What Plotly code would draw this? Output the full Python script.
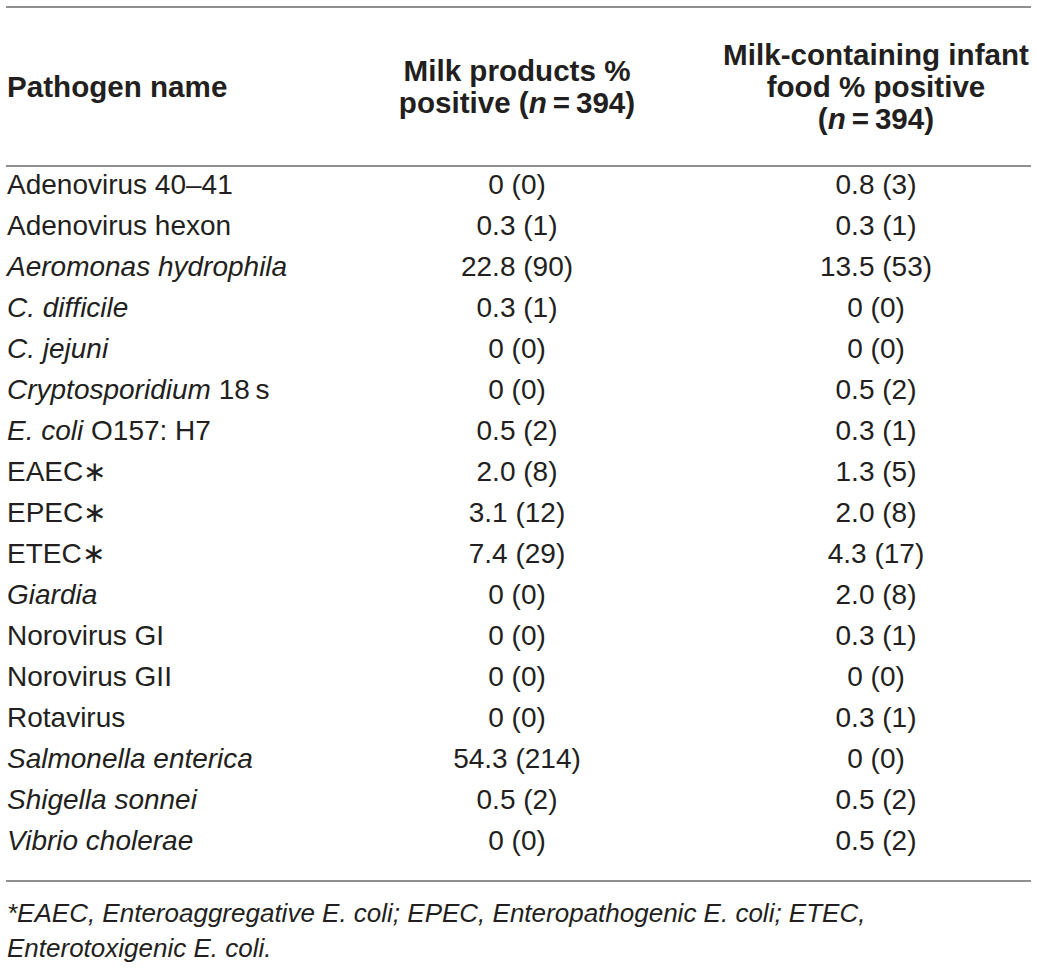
import plotly.graph_objects as go

# table data
pathogens = ["Adenovirus 40–41", "Adenovirus hexon", "<i>Aeromonas hydrophila</i>",
             "<i>C. difficile</i>", "<i>C. jejuni</i>", "<i>Cryptosporidium</i> 18\u2009s",
             "<i>E. coli</i> O157: H7", "EAEC∗", "EPEC∗", "ETEC∗", "<i>Giardia</i>",
             "Norovirus GI", "Norovirus GII", "Rotavirus", "<i>Salmonella enterica</i>",
             "<i>Shigella sonnei</i>", "<i>Vibrio cholerae</i>"]
milk_pct = [0, 0.3, 22.8, 0.3, 0, 0, 0.5, 2.0, 3.1, 7.4, 0, 0, 0, 0, 54.3, 0.5, 0]
milk_n = [0, 1, 90, 1, 0, 0, 2, 8, 12, 29, 0, 0, 0, 0, 214, 2, 0]
infant_pct = [0.8, 0.3, 13.5, 0, 0, 0.5, 0.3, 1.3, 2.0, 4.3, 2.0, 0.3, 0, 0.3, 0, 0.5, 0.5]
infant_n = [3, 1, 53, 0, 0, 2, 1, 5, 8, 17, 8, 1, 0, 1, 0, 2, 2]
header_1 = ["Pathogen name"]
header_2 = ["Milk products %", "positive (<i>n</i>\u2009=\u2009394)"]
header_3 = ["Milk-containing infant", "food % positive", "(<i>n</i>\u2009=\u2009394)"]
footnote = ["*EAEC, Enteroaggregative E. coli; EPEC, Enteropathogenic E. coli; ETEC,",
            "Enterotoxigenic E. coli."]

INK = "#231f20"
RULE = "#8f8f8f"
FONT = "Liberation Sans"

# rows sit on a y axis measured in row units (row 0 = first pathogen)
W, H = 1037, 971
ROW0, STEP = 187, 41
HEAD_MID, HEAD_GAP = 90, 32


def to_row(px):
    return (px - ROW0) / STEP


def fmt(p, n):
    p = "0" if p == 0 else f"{p:.1f}"
    return f"{p} ({n})"


def head_ys(lines):
    k = len(lines)
    return [to_row(HEAD_MID + (i - (k - 1) / 2) * HEAD_GAP) for i in range(k)]


rows = list(range(len(pathogens)))
col_x = [7, 517, 876]
head_font = dict(family=FONT, size=29.6, color=INK, weight="bold")
body_font = dict(family=FONT, size=28, color=INK)

fig = go.Figure()

# header
fig.add_trace(go.Scatter(x=[col_x[0]] * len(header_1), y=head_ys(header_1), text=header_1,
                         mode="text", textposition="middle right", textfont=head_font))
for cx, lines in [(col_x[1], header_2), (col_x[2], header_3)]:
    fig.add_trace(go.Scatter(x=[cx] * len(lines), y=head_ys(lines), text=lines,
                             mode="text", textposition="middle center", textfont=head_font))

# body
fig.add_trace(go.Scatter(x=[col_x[0]] * len(rows), y=rows, text=pathogens, mode="text",
                         textposition="middle right", textfont=body_font))
fig.add_trace(go.Scatter(x=[col_x[1]] * len(rows), y=rows,
                         text=[fmt(p, n) for p, n in zip(milk_pct, milk_n)], mode="text",
                         textposition="middle center", textfont=body_font))
fig.add_trace(go.Scatter(x=[col_x[2]] * len(rows), y=rows,
                         text=[fmt(p, n) for p, n in zip(infant_pct, infant_n)], mode="text",
                         textposition="middle center", textfont=body_font))

# footnote
fig.add_trace(go.Scatter(x=[col_x[0]] * 2, y=[to_row(915), to_row(950)],
                         text=[f"<i>{t}</i>" for t in footnote], mode="text",
                         textposition="middle right",
                         textfont=dict(family=FONT, size=26, color=INK)))

# horizontal rules
for py in [7, 166, 881]:
    fig.add_shape(type="line", x0=6, x1=1031, y0=to_row(py), y1=to_row(py),
                  xref="x", yref="y", line=dict(color=RULE, width=2))

fig.update_layout(width=W, height=H, margin=dict(l=0, r=0, t=0, b=0),
                  paper_bgcolor="white", plot_bgcolor="white", showlegend=False,
                  hovermode=False,
                  xaxis=dict(range=[0, W], visible=False, fixedrange=True),
                  yaxis=dict(range=[to_row(H), to_row(0)], visible=False, fixedrange=True))

# drop the page's default body margin so the figure fills the window
fig.write_html("out.html", config={"displayModeBar": False},
               post_script="document.body.style.margin='0';")
